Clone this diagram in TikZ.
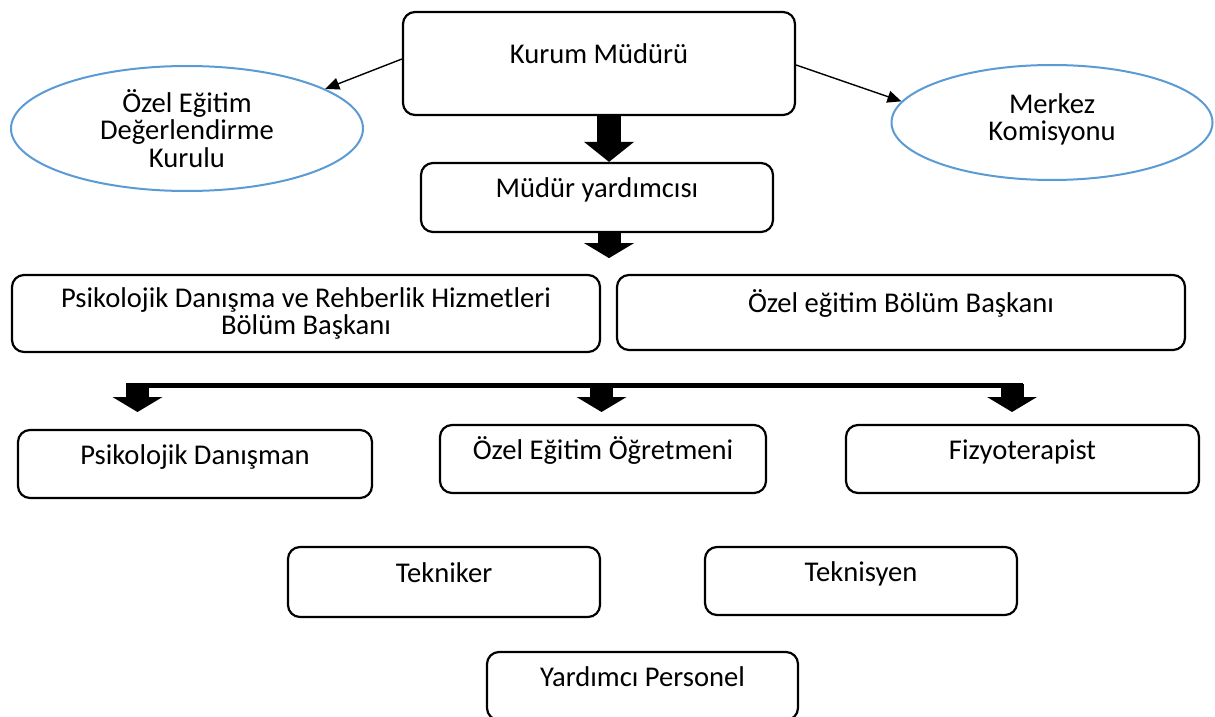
\documentclass[tikz,border=0pt]{standalone}
\usepackage{fontspec}
\setmainfont{Carlito}
\usepackage{xcolor}
\usetikzlibrary{positioning, arrows.meta, shapes.geometric}

\definecolor{ovalblue}{HTML}{5B9BD5}

\tikzset{
  box/.style={draw, line width=1.1pt, rounded corners=6pt, inner sep=0pt, align=center},
  toptext/.style={text height=10pt, text depth=10pt},
  oval/.style={draw=ovalblue, line width=1pt, ellipse, inner sep=0pt, align=center},
  thinarrow/.style={line width=0.7pt, -{Triangle[length=7pt,width=6pt]}},
  bigdown/.style={line width=12pt, -{Triangle[length=10pt,width=25pt,line width=0pt]}},
  smalldown/.style={line width=11.5pt, -{Triangle[length=7.5pt,width=25pt,line width=0pt]}}
}

\begin{document}
\begin{tikzpicture}[x=0.5pt, y=-0.5pt, font=\fontsize{14.3pt}{13.75pt}\selectfont]
            \useasboundingbox (0,0) rectangle (1215,717);
            \fill[white] (0,0) rectangle (1215,717);

            % top: director and the two committees
            \node[box, toptext, minimum width=196pt, minimum height=51.5pt] (kurum) at (599,63.5) {Kurum Müdürü};
            \node[oval, minimum width=176pt, minimum height=62.5pt] (ozegitim) at (187,128.5) {Özel Eğitim\\Değerlendirme\\Kurulu};
            \node[oval, text depth=5.5pt, minimum width=160.5pt, minimum height=57.5pt] (merkez) at (1052,122.5) {Merkez\\Komisyonu};
            \draw[thinarrow] ([yshift=2.25pt]kurum.west) -- (ozegitim.16);
            \draw[thinarrow] ([yshift=-0.75pt]kurum.east) -- (merkez.172);

            % assistant director
            \node[box, toptext, minimum width=176pt, minimum height=34.5pt] (myard) at (597,197.5) {Müdür yardımcısı};
            \coordinate (ax) at (609,0);
            \draw[bigdown] (kurum.south -| ax) -- (myard.north -| ax);
            \draw[smalldown] (myard.south -| ax) -- ++(0,25);

            % department heads
            \node[box, minimum width=294pt, minimum height=38.5pt] (pdrbb) at (306,313.5) {Psikolojik Danışma ve Rehberlik Hizmetleri\\Bölüm Başkanı};
            \node[box, toptext, minimum width=284pt, minimum height=37.5pt] (ozelbb) at (901,312.5) {Özel eğitim Bölüm Başkanı};

            % distribution bar
            \coordinate (barL) at (126,385.5); \coordinate (barR) at (1023,385.5);
            \coordinate (b1) at (137.5,384); \coordinate (b2) at (601.5,384); \coordinate (b3) at (1012,384);
            \draw[line width=2.5pt] (barL) -- (barR);
            \foreach \c in {b1,b2,b3} \draw[smalldown] (\c) -- ++(0,28);

            % staff
            \node[box, toptext, minimum width=177pt, minimum height=34pt] (pdanisman) at (195,464) {Psikolojik Danışman};
            \node[box, toptext, minimum width=163pt, minimum height=34pt] (ozogretmen) at (603,459) {Özel Eğitim Öğretmeni};
            \node[box, toptext, minimum width=176.5pt, minimum height=34pt] (fizyo) at (1022.5,459) {Fizyoterapist};
            \node[box, toptext, minimum width=156pt, minimum height=35pt] (tekniker) at (444,582) {Tekniker};
            \node[box, toptext, minimum width=156pt, minimum height=34pt] (teknisyen) at (861,581) {Teknisyen};
            \node[box, toptext, minimum width=155.5pt, minimum height=34pt] (yardper) at (642.5,686) {Yardımcı Personel};
        \end{tikzpicture}
\end{document}
